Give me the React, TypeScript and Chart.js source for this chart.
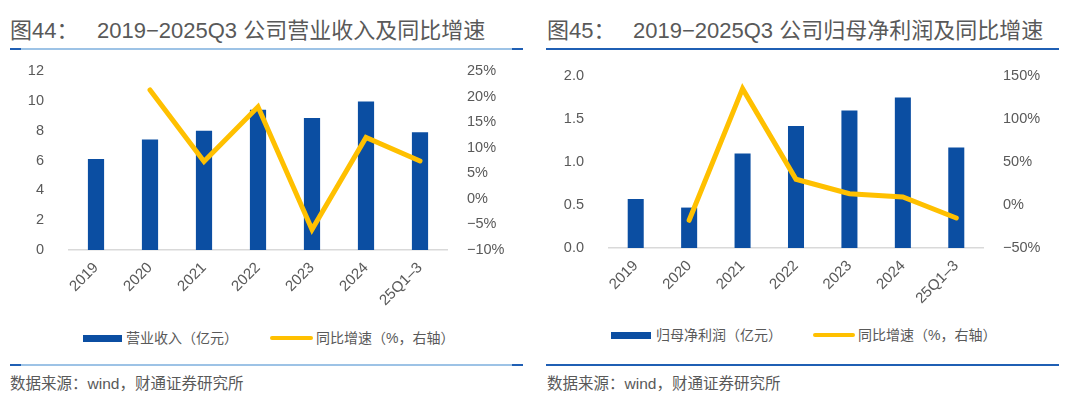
import React, { useEffect, useRef } from "react";
import { Chart, registerables } from "chart.js";

Chart.register(...registerables);

const CATEGORIES = ["2019", "2020", "2021", "2022", "2023", "2024", "25Q1–3"];
const REVENUE = [6.1, 7.4, 8.0, 9.4, 8.85, 9.95, 7.9];
const REVENUE_YOY = [null, 21.3, 7.3, 18.0, -6.0, 12.0, 7.4];
const PROFIT = [0.57, 0.47, 1.1, 1.42, 1.6, 1.75, 1.17];
const PROFIT_YOY = [null, -17.8, 135.3, 29.9, 13.2, 9.3, -15.1];

const REV_AXIS = { min: 0, max: 12, step: 2, decimals: 0 };
const REV_PCT_AXIS = { min: -10, max: 25, step: 5 };
const PROFIT_AXIS = { min: 0, max: 2, step: 0.5, decimals: 1 };
const PROFIT_PCT_AXIS = { min: -50, max: 150, step: 50 };

const BAR_COLOR = "#0B4EA2";
const LINE_COLOR = "#FFC000";
const TEXT_COLOR = "#595959";
const FONT = "'Liberation Sans', Arial, 'Noto Sans CJK SC', sans-serif";
const CJK = "'Liberation Sans', 'Noto Sans CJK SC', sans-serif";

Chart.defaults.font.family = FONT;

const CANVAS_H = 265;

type ComboProps = {
  bars: number[];
  line: (number | null)[];
  leftAxis: { min: number; max: number; step: number; decimals: number };
  rightAxis: { min: number; max: number; step: number };
  topPad: number;
  leftWidth: number;
  rightWidth: number;
  xHeight: number;
  leftPad: number;
  rightPad: number;
};

function pct(v: number) {
  return v < 0 ? "−" + Math.abs(v) + "%" : v + "%";
}

function Combo(p: ComboProps) {
  const ref = useRef<HTMLCanvasElement>(null);
  useEffect(() => {
    const chart = new Chart(ref.current!, {
      type: "bar",
      data: {
        labels: CATEGORIES,
        datasets: [
          {
            type: "line",
            data: p.line as any,
            borderColor: LINE_COLOR,
            backgroundColor: LINE_COLOR,
            borderWidth: 5,
            pointRadius: 0,
            borderCapStyle: "round",
            borderJoinStyle: "miter",
            yAxisID: "y1",
            order: 0,
            tension: 0,
          } as any,
          {
            type: "bar",
            data: p.bars,
            backgroundColor: BAR_COLOR,
            barPercentage: 0.3,
            categoryPercentage: 1,
            yAxisID: "y",
            order: 1,
          },
        ],
      },
      options: {
        animation: false,
        responsive: false,
        maintainAspectRatio: false,
        layout: { padding: { top: p.topPad, left: 0, right: 0, bottom: 0 } },
        plugins: { legend: { display: false }, tooltip: { enabled: false } },
        scales: {
          x: {
            grid: { display: true, drawOnChartArea: false, drawTicks: false, color: "transparent" },
            border: { display: true, color: "#D9D9D9", width: 1.5 },
            ticks: {
              color: TEXT_COLOR,
              font: { size: 15 },
              minRotation: 45,
              maxRotation: 45,
              autoSkip: false,
              padding: 9,
            },
            afterFit: (s: any) => {
              s.height = p.xHeight;
              s.paddingLeft = 0;
              s.paddingRight = 0;
            },
          },
          y: {
            position: "left",
            min: p.leftAxis.min,
            max: p.leftAxis.max,
            grid: { display: false },
            border: { display: false },
            ticks: {
              stepSize: p.leftAxis.step,
              color: TEXT_COLOR,
              font: { size: 14.5 },
              padding: p.leftPad,
              callback: (v: any) => Number(v).toFixed(p.leftAxis.decimals),
            },
            afterFit: (s: any) => {
              s.width = p.leftWidth;
              s.paddingTop = 0;
              s.paddingBottom = 0;
            },
          },
          y1: {
            position: "right",
            min: p.rightAxis.min,
            max: p.rightAxis.max,
            grid: { display: false },
            border: { display: false },
            ticks: {
              stepSize: p.rightAxis.step,
              color: TEXT_COLOR,
              font: { size: 14.5 },
              padding: p.rightPad,
              callback: (v: any) => pct(Number(v)),
            },
            afterFit: (s: any) => {
              s.width = p.rightWidth;
              s.paddingTop = 0;
              s.paddingBottom = 0;
            },
          },
        },
      },
    });
    return () => chart.destroy();
  }, []);
  return <canvas ref={ref} width={540} height={CANVAS_H} style={{ width: 540, height: CANVAS_H, display: "block" }} />;
}

function abs(left: number, top: number, extra: React.CSSProperties = {}): React.CSSProperties {
  return { position: "absolute", left, top, ...extra };
}

function Rule({ left, top, width, solid }: { left: number; top: number; width: number; solid: boolean }) {
  if (solid) {
    return <div style={abs(left, top, { width, height: 2, background: "#1F5FB4" })} />;
  }
  return (
    <div style={abs(left, top, { width, height: 2, background: "#9DC3E6" })}>
      <div style={abs(0, 0, { width: 11, height: 2, background: "#1F5FB4" })} />
      <div style={abs(width - 11, 0, { width: 11, height: 2, background: "#1F5FB4" })} />
    </div>
  );
}

function Text({ left, top, size, children, color = TEXT_COLOR }: any) {
  return (
    <div style={abs(left, top, { fontSize: size, lineHeight: "22px", height: 22, whiteSpace: "nowrap", color, fontFamily: CJK })}>
      {children}
    </div>
  );
}

export default function App() {
  return (
    <div style={{ position: "absolute", left: 0, top: 0, width: 1080, height: 410, background: "#fff", overflow: "hidden" }}>
      {/* Charts */}
      <div style={abs(0, 55)}>
        <Combo bars={REVENUE} line={REVENUE_YOY} leftAxis={REV_AXIS} rightAxis={REV_PCT_AXIS}
          topPad={16} leftWidth={69} rightWidth={93} xHeight={CANVAS_H - 195} leftPad={17} rightPad={12} />
      </div>
      <div style={abs(540, 55)}>
        <Combo bars={PROFIT} line={PROFIT_YOY} leftAxis={PROFIT_AXIS} rightAxis={PROFIT_PCT_AXIS}
          topPad={21} leftWidth={69} rightWidth={97} xHeight={CANVAS_H - 193} leftPad={17} rightPad={12} />
      </div>

      {/* Titles */}
      <Text left={10} top={20} size={22}>图44：</Text>
      <Text left={97} top={20} size={22}>2019−2025Q3 公司营业收入及同比增速</Text>
      <Text left={547} top={20} size={22}>图45：</Text>
      <Text left={633} top={20} size={22}>2019−2025Q3 公司归母净利润及同比增速</Text>
      <Rule left={10} top={48} width={513} solid={false} />
      <Rule left={546} top={48} width={513} solid={true} />

      {/* Legends */}
      <div style={abs(83, 335, { width: 39, height: 7, background: BAR_COLOR })} />
      <Text left={126} top={327} size={14}>营业收入（亿元）</Text>
      <div style={abs(270, 336, { width: 43, height: 4, borderRadius: 2, background: LINE_COLOR })} />
      <Text left={316} top={327} size={14}>同比增速（%，右轴）</Text>

      <div style={abs(611, 332, { width: 40, height: 7, background: BAR_COLOR })} />
      <Text left={656} top={324} size={14}>归母净利润（亿元）</Text>
      <div style={abs(813, 333, { width: 42, height: 4, borderRadius: 2, background: LINE_COLOR })} />
      <Text left={858} top={324} size={14}>同比增速（%，右轴）</Text>

      {/* Footer */}
      <Rule left={10} top={364} width={513} solid={false} />
      <Rule left={546} top={364} width={513} solid={true} />
      <Text left={10} top={373} size={15.5}>数据来源：wind，财通证券研究所</Text>
      <Text left={547} top={373} size={15.5}>数据来源：wind，财通证券研究所</Text>
    </div>
  );
}
